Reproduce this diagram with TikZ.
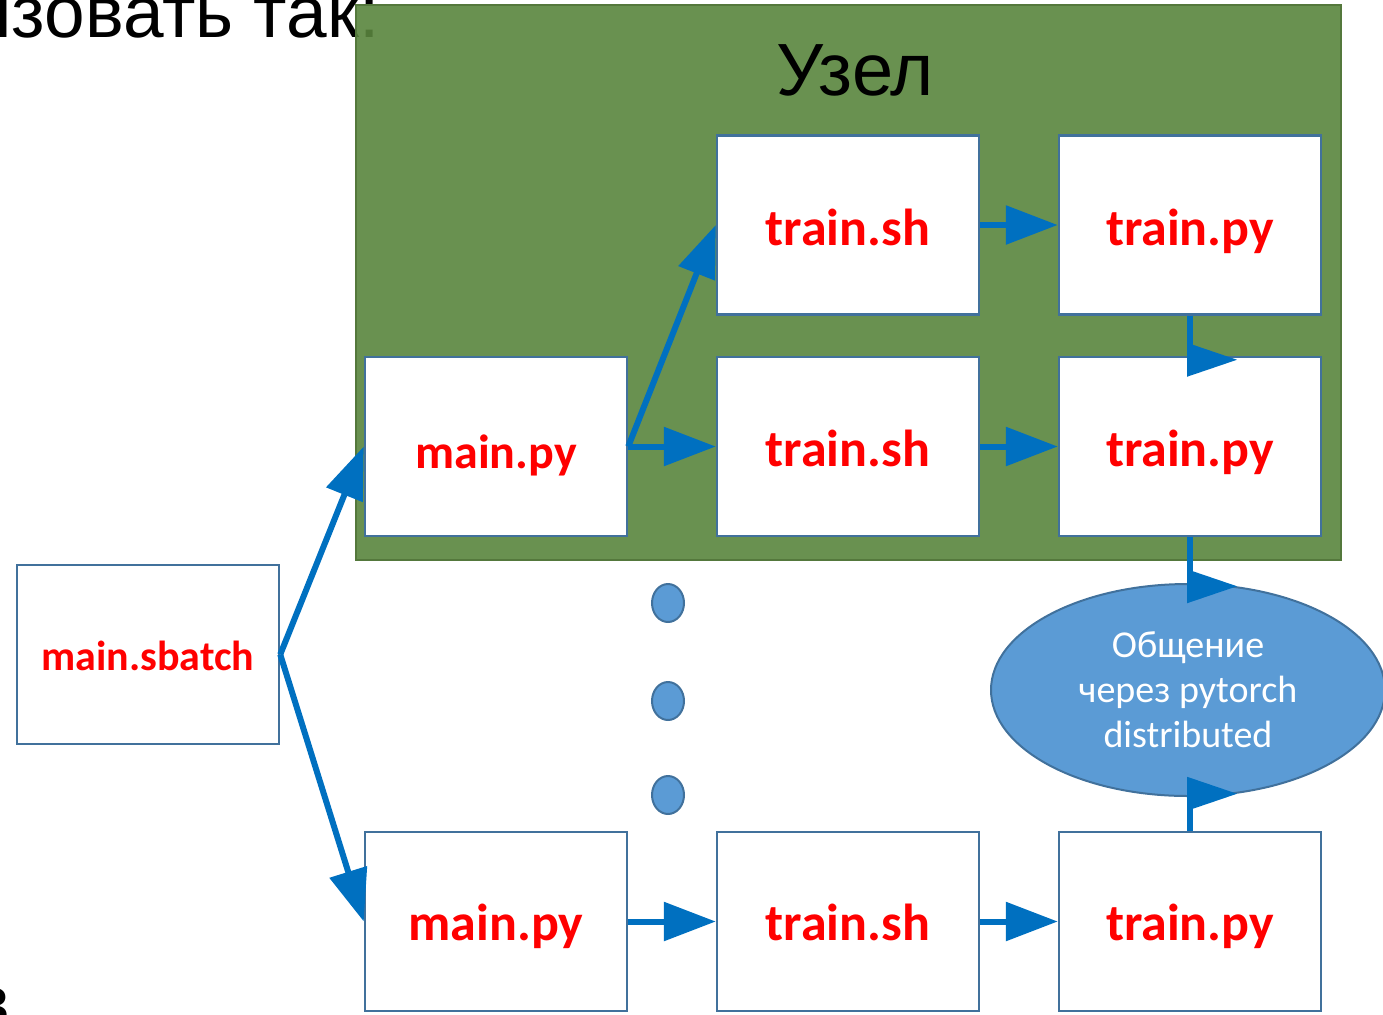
\documentclass[tikz,border=0pt]{standalone}
\usepackage{fontspec}
\setmainfont{Carlito}
\newfontfamily\arialfont{Liberation Sans}
\usetikzlibrary{arrows.meta,shapes.geometric,calc}
\definecolor{zonegreen}{RGB}{89,133,61}
\definecolor{zoneline}{RGB}{84,120,60}
\definecolor{boxline}{RGB}{65,113,156}
\definecolor{flowblue}{RGB}{0,112,192}
\definecolor{bubble}{RGB}{91,155,213}
\begin{document}
\begin{tikzpicture}[x=0.5pt,y=-0.5pt,
  box/.style={draw=boxline, line width=1.25pt, fill=white, minimum width=131pt,
    minimum height=89.5pt, inner sep=0pt, text=red,
    text height=23.4pt, text depth=3.4pt,
    font=\bfseries\fontsize{26}{30}\selectfont},
  lowrow/.style={text height=22pt, text depth=3.5pt},
  flow/.style={draw=flowblue, line width=3pt, -{Triangle[length=26pt,width=19pt]}},
  stub/.style={draw=flowblue, line width=3pt},
  sidehead/.style={fill=flowblue},
  dotmark/.style={ellipse, draw=boxline, line width=1pt, fill=bubble,
    minimum width=16pt, minimum height=19pt, inner sep=0pt}]
\useasboundingbox (0,0) rectangle (1383,1014);
\clip (0,0) rectangle (1383,1014);

% slide text around the diagram
\node[anchor=base west, inner sep=0pt, font=\arialfont\fontsize{36.5}{40}\selectfont]
  (caption) at (-41,37) {ызовать так:};
\node[anchor=base east, inner sep=0pt, font=\arialfont\fontsize{36.5}{40}\selectfont]
  (tail) at (11,1026) {в};

% the node enclosure
\draw[fill=zonegreen, fill opacity=0.9, draw=zoneline, line width=1pt]
  (356,5) rectangle (1341,560);
\node[anchor=base, inner sep=0pt, font=\arialfont\fontsize{37}{40}\selectfont]
  (zonetitle) at (855,95) {Узел};

% processes
\node[box, font=\bfseries\fontsize{21}{25}\selectfont, text height=18.5pt, text depth=3pt]
  (sb) at (148,654.5) {main.sbatch};
\node[box, font=\bfseries\fontsize{24}{28}\selectfont, text height=24.5pt, text depth=3pt]
  (mp1) at (496,446.5) {main.py};
\node[box] (ts1) at (848,225) {train.sh};
\node[box] (tp1) at (1190,225) {train.py};
\node[box] (ts2) at (848,446.5) {train.sh};
\node[box] (tp2) at (1190,446.5) {train.py};
\node[box, lowrow] (mp2) at (496,921.5) {main.py};
\node[box, lowrow] (ts3) at (848,921.5) {train.sh};
\node[box, lowrow] (tp3) at (1190,921.5) {train.py};

% ellipsis between the nodes
\node[dotmark] (d1) at (668,603) {};
\node[dotmark] (d2) at (668,701) {};
\node[dotmark] (d3) at (668,795) {};

% communication bubble
\node[ellipse, draw=boxline, line width=1pt, fill=bubble, minimum width=197pt,
  minimum height=106pt, inner sep=0pt, text=white, align=center,
  font=\fontsize{19}{22.5}\selectfont] (comm) at (1188,690)
  {Общение\\через pytorch\\distributed};

% launch flow
\draw[flow] (sb.east) -- (mp1.west);
\draw[flow] (sb.east) -- (mp2.west);
\draw[flow] (mp1.east) -- (ts1.west);
\draw[flow] (mp1.east) -- (ts2.west);
\draw[flow] (ts1.east) -- (tp1.west);
\draw[flow] (ts2.east) -- (tp2.west);
\draw[flow] (mp2.east) -- (ts3.west);
\draw[flow] (ts3.east) -- (tp3.west);

% links between training processes, heads turned sideways
\draw[stub] (tp1.south) -- ++(0,32);
\fill[sidehead] ($(tp1.south)+(-3,27)$) -- ++(0,34) -- ++(50,-17) -- cycle;
\draw[stub] (tp2.south) -- ++(0,40);
\fill[sidehead] ($(tp2.south)+(-3,32)$) -- ++(0,34) -- ++(50,-17) -- cycle;
\draw[stub] (tp3.north) -- ++(0,-35);
\fill[sidehead] ($(tp3.north)+(-3,-54)$) -- ++(0,34) -- ++(50,-17) -- cycle;
\end{tikzpicture}
\end{document}
